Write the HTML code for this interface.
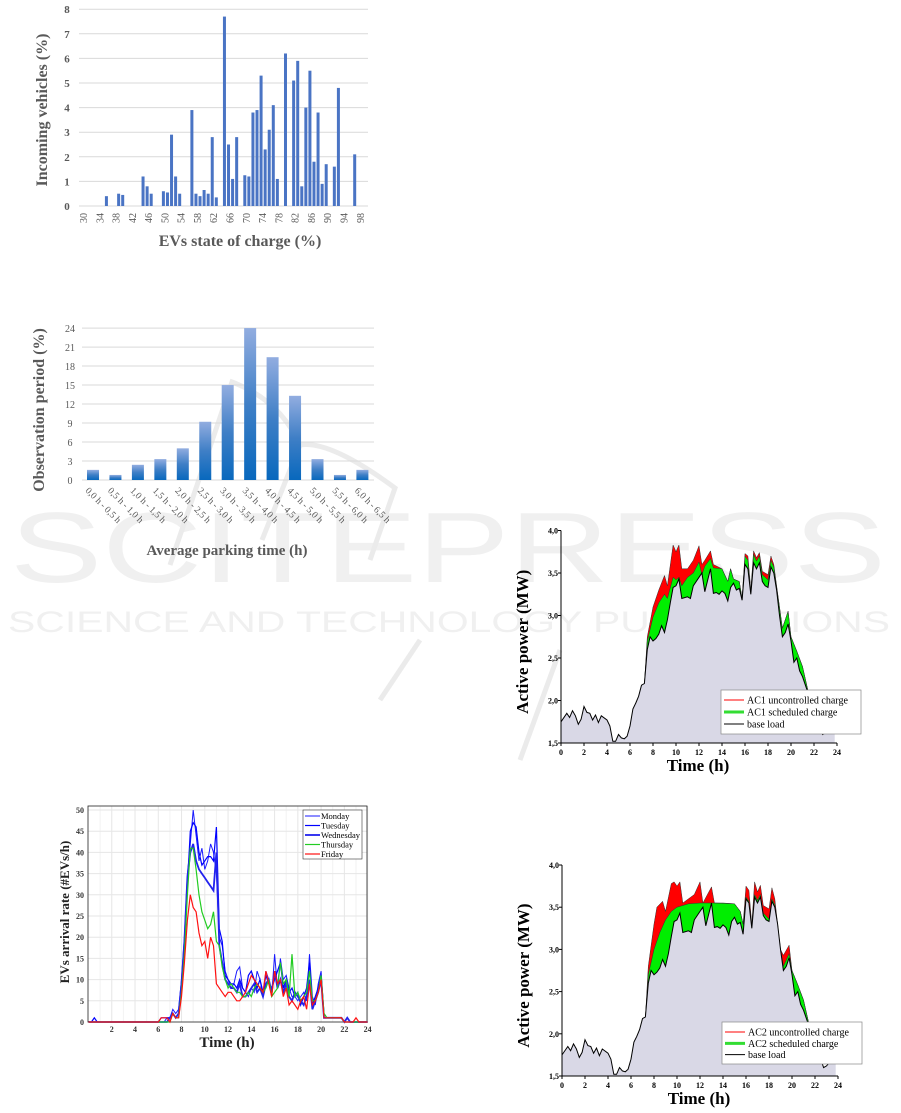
<!DOCTYPE html>
<html><head><meta charset="utf-8">
<style>
html,body{margin:0;padding:0;background:#fff;}
svg{display:block;}
text{font-family:"Liberation Serif",serif;}
</style></head>
<body>
<svg id="s" width="901" height="1113" viewBox="0 0 901 1113" xmlns="http://www.w3.org/2000/svg">
<defs>
<linearGradient id="bg" x1="0" y1="0" x2="0" y2="1">
<stop offset="0" stop-color="#92ade0"/><stop offset="0.5" stop-color="#3f7fc6"/><stop offset="1" stop-color="#0868bd"/>
</linearGradient>
</defs>
<g fill="#f0f0f0">
<text x="10" y="582" font-size="100" textLength="876" lengthAdjust="spacingAndGlyphs" style="font-family:'Liberation Sans',sans-serif">SCITEPRESS</text>
<text x="8" y="632" font-size="30" textLength="882" lengthAdjust="spacingAndGlyphs" style="font-family:'Liberation Sans',sans-serif">SCIENCE AND TECHNOLOGY PUBLICATIONS</text>
</g>
<g fill="none" stroke="#ebebeb" stroke-width="5">
<path d="M170,565 L232,382 Q280,400 300,445 Q330,440 395,488 L370,560"/>
<path d="M300,445 L262,540"/>
<path d="M420,640 L380,700 M560,650 L520,760"/>
</g>
<g id="g"></g>
</svg>
<script>
var NS="http://www.w3.org/2000/svg",G=document.getElementById("g");
function el(t,a,txt){var e=document.createElementNS(NS,t);for(var k in a)e.setAttribute(k,a[k]);if(txt!==undefined)e.textContent=txt;G.appendChild(e);return e;}
(function(){
 var X=function(v){return 82+(v-30)*4.07},Y=function(v){return 206-v*24.6};
 for(var i=0;i<=8;i++){el("line",{x1:79,x2:368,y1:Y(i),y2:Y(i),stroke:"#d9d9d9","stroke-width":1});
  el("text",{x:67,y:Y(i)+4,"font-size":11,"font-weight":"bold",fill:"#595959","text-anchor":"middle"},i);}
 var d=[[36,.4],[39,.5],[40,.45],[45,1.2],[46,.8],[47,.5],[50,.6],[51,.55],[52,2.9],[53,1.2],[54,.5],[57,3.9],[58,.5],[59,.4],[60,.65],[61,.5],[62,2.8],[63,.35],[65,7.7],[66,2.5],[67,1.1],[68,2.8],[70,1.25],[71,1.2],[72,3.8],[73,3.9],[74,5.3],[75,2.3],[76,3.1],[77,4.1],[78,1.1],[80,6.2],[82,5.1],[83,5.9],[84,.8],[85,4],[86,5.5],[87,1.8],[88,3.8],[89,.9],[90,1.7],[92,1.6],[93,4.8],[97,2.1]];
 d.forEach(function(p){el("rect",{x:X(p[0])-1.5,y:Y(p[1]),width:3,height:p[1]*24.6,fill:"#4a74c4"});});
 for(var v=30;v<=98;v+=4){var x=X(v)+3;el("text",{x:x,y:226,"font-size":10,fill:"#595959","text-anchor":"middle",transform:"rotate(-90 "+(x-3)+" 221)"},v);}
 el("text",{x:240,y:246,"font-size":16,"font-weight":"bold",fill:"#595959","text-anchor":"middle"},"EVs state of charge (%)");
 el("text",{x:0,y:0,"font-size":16,"font-weight":"bold",fill:"#595959","text-anchor":"middle",transform:"translate(47,110) rotate(-90)"},"Incoming vehicles (%)");
})();
(function(){
 var Y=function(v){return 480-v*6.33};
 for(var i=0;i<=24;i+=3){el("line",{x1:82,x2:374,y1:Y(i),y2:Y(i),stroke:"#d9d9d9","stroke-width":1});
  el("text",{x:70,y:Y(i)+4,"font-size":10,fill:"#595959","text-anchor":"middle"},i);}
 var v=[1.6,.8,2.4,3.3,5,9.2,15,24,19.4,13.3,3.3,.8,1.6];
 var lb=["0,0 h - 0,5 h","0,5 h - 1,0 h","1,0 h - 1,5 h","1,5 h - 2,0 h","2,0 h - 2,5 h","2,5 h - 3,0 h","3,0 h - 3,5 h","3,5 h - 4,0 h","4,0 h - 4,5 h","4,5 h - 5,0 h","5,0 h - 5,5 h","5,5 h - 6,0 h","6,0 h - 6,5 h"];
 v.forEach(function(h,i){var c=93+i*22.45;el("rect",{x:c-6,y:Y(h),width:12,height:h*6.33,fill:"url(#bg)"});
  el("text",{x:c-6,y:492,"font-size":9.5,fill:"#595959",transform:"rotate(45 "+(c-6)+" 489)"},lb[i]);});
 el("text",{x:227,y:555,"font-size":15,"font-weight":"bold",fill:"#595959","text-anchor":"middle"},"Average parking time (h)");
 el("text",{x:0,y:0,"font-size":16,"font-weight":"bold",fill:"#595959","text-anchor":"middle",transform:"translate(44,410) rotate(-90)"},"Observation period (%)");
})();
var base=[[0,1.75],[.5,1.85],[.75,1.8],[1,1.88],[1.25,1.82],[1.5,1.72],[1.75,1.78],[2,1.93],[2.25,1.86],[2.5,1.85],[2.75,1.77],[3,1.83],[3.25,1.74],[3.5,1.82],[4,1.77],[4.25,1.7],[4.5,1.52],[4.75,1.52],[5,1.6],[5.25,1.56],[5.5,1.55],[5.75,1.58],[6,1.7],[6.25,1.9],[6.5,1.97],[6.75,2.05],[7,2.18],[7.25,2.2],[7.5,2.6],[7.75,2.75],[8,2.7],[8.25,2.73],[8.5,2.78],[8.75,2.88],[9,2.8],[9.25,2.95],[9.5,3.15],[9.75,3.33],[10,3.35],[10.25,3.43],[10.5,3.2],[11,3.22],[11.25,3.2],[11.5,3.35],[12,3.45],[12.25,3.5],[12.5,3.28],[13,3.55],[13.25,3.26],[13.5,3.27],[13.75,3.25],[14,3.29],[14.25,3.26],[14.5,3.17],[14.75,3.33],[15,3.38],[15.25,3.3],[15.5,3.32],[15.75,3.18],[16,3.6],[16.25,3.55],[16.5,3.25],[16.75,3.62],[17,3.55],[17.25,3.62],[17.5,3.4],[17.75,3.35],[18,3.33],[18.25,3.57],[18.5,3.5],[18.75,3.3],[19,3.0],[19.25,2.75],[19.5,2.8],[19.75,2.9],[20,2.7],[20.25,2.45],[20.5,2.5],[20.75,2.35],[21,2.28],[21.5,2.08],[22,1.9],[22.5,1.7],[22.75,1.6],[23,1.62],[23.5,1.7],[23.8,1.72]];
var red=[[7.25,2.2],[7.5,2.75],[8,3.1],[8.5,3.3],[9,3.47],[9.25,3.35],[9.75,3.83],[10,3.75],[10.25,3.83],[10.5,3.55],[11,3.55],[11.5,3.65],[12,3.82],[12.25,3.6],[12.5,3.65],[13,3.76],[13.25,3.6],[14,3.55],[14.5,3.4],[14.75,3.55],[15,3.43],[15.5,3.4],[15.75,3.2],[16,3.73],[16.25,3.7],[16.5,3.3],[16.75,3.76],[17,3.68],[17.25,3.74],[17.5,3.52],[18,3.48],[18.25,3.7],[18.5,3.6],[19,3.1],[19.25,2.85],[19.75,3.05],[20,2.75],[20.5,2.58],[21,2.4],[21.5,2.1],[22,1.9]];
var grn1=[[7.25,2.2],[7.5,2.7],[8,2.98],[8.5,3.15],[9,3.25],[9.25,3.2],[9.75,3.45],[10,3.42],[10.25,3.45],[10.5,3.35],[11,3.45],[11.5,3.5],[12,3.63],[12.25,3.48],[12.5,3.58],[13,3.67],[13.25,3.56],[14,3.55],[14.5,3.4],[14.75,3.55],[15,3.43],[15.5,3.4],[15.75,3.2],[16,3.7],[16.25,3.65],[16.5,3.28],[16.75,3.72],[17,3.64],[17.25,3.7],[17.5,3.48],[18,3.42],[18.25,3.65],[18.5,3.57],[19,3.1],[19.25,2.85],[19.75,3.05],[20,2.75],[20.5,2.58],[21,2.4],[21.5,2.1],[22,1.9]];
var red2=[[7.25,2.2],[7.5,2.8],[8,3.3],[8.25,3.5],[8.75,3.57],[9,3.45],[9.5,3.78],[9.75,3.8],[10,3.75],[10.25,3.8],[10.5,3.55],[11.5,3.65],[12,3.8],[12.25,3.55],[13,3.74],[13.25,3.55],[15,3.54],[15.5,3.45],[15.75,3.3],[16,3.75],[16.25,3.7],[16.5,3.3],[16.75,3.8],[17,3.68],[17.25,3.76],[17.5,3.52],[18,3.48],[18.25,3.73],[18.5,3.6],[19,3.0],[19.25,2.93],[19.75,3.05],[20,2.75],[20.5,2.58],[21,2.4],[21.5,2.1],[22,1.9]];
var grn2=[[7.25,2.2],[7.5,2.7],[8,3.0],[8.5,3.2],[9,3.35],[9.5,3.45],[10,3.5],[11,3.54],[12,3.55],[13,3.55],[14,3.55],[15,3.54],[15.5,3.45],[15.75,3.3],[16,3.62],[16.25,3.57],[16.5,3.27],[16.75,3.65],[17,3.58],[17.25,3.65],[17.5,3.43],[18,3.36],[18.25,3.6],[18.5,3.53],[19,3.0],[19.25,2.8],[19.75,2.95],[20,2.75],[20.5,2.58],[21,2.4],[21.5,2.1],[22,1.9]];
function power(ox,y40,y15,top,gr,lab,legY){
 var X=function(t){return ox+t*11.5},Y=function(v){return y15-(v-1.5)*(y15-y40)/2.5};
 function poly(arr,col){var s="M"+X(arr[0][0])+","+y15;arr.forEach(function(p){s+="L"+X(p[0]).toFixed(1)+","+Y(p[1]).toFixed(1)});s+="L"+X(arr[arr.length-1][0])+","+y15+"Z";el("path",{d:s,fill:col});}
 function line(arr,c,w){var s="";arr.forEach(function(p,i){s+=(i?"L":"M")+X(p[0]).toFixed(1)+","+Y(p[1]).toFixed(1)});el("path",{d:s,fill:"none",stroke:c,"stroke-width":w});}
 poly(top,"#ff0000");poly(gr,"#00ee00");
 line(top,"#333",.5);line(gr,"#333",.5);
 poly(base,"#d9d8e6");
 line(base,"#000",1);
 el("line",{x1:ox,x2:ox,y1:y40,y2:y15,stroke:"#000","stroke-width":1});
 el("line",{x1:ox,x2:X(24),y1:y15,y2:y15,stroke:"#000","stroke-width":1});
 for(var v=1.5;v<=4.01;v+=.5){el("line",{x1:ox-3,x2:ox,y1:Y(v),y2:Y(v),stroke:"#000"});
  el("text",{x:ox-3,y:Y(v)+3,"font-size":8,"font-weight":"bold","text-anchor":"end"},v.toFixed(1).replace(".",","));}
 for(var t=0;t<=24;t+=2){el("line",{x1:X(t),x2:X(t),y1:y15,y2:y15+3,stroke:"#000"});
  el("text",{x:X(t),y:y15+12,"font-size":8,"font-weight":"bold","text-anchor":"middle"},t);}
 el("text",{x:ox+137,y:y15+28,"font-size":17,"font-weight":"bold","text-anchor":"middle"},"Time (h)");
 el("text",{x:0,y:0,"font-size":17,"font-weight":"bold","text-anchor":"middle",transform:"translate("+(ox-33)+","+((y15+y40)/2+5)+") rotate(-90)"},"Active power (MW)");
 var lx=ox+160,lw=140,lh=legY[1]-legY[0];
 el("rect",{x:lx,y:legY[0],width:lw,height:lh,fill:"#fff",stroke:"#888","stroke-width":.7});
 var rows=[[lab+" uncontrolled charge","#ff0000",1],[lab+" scheduled charge","#33dd33",3],["base load","#000",1]];
 rows.forEach(function(r,i){var yy=legY[0]+8+i*(lh-8)/3+2;el("line",{x1:lx+3,x2:lx+23,y1:yy,y2:yy,stroke:r[1],"stroke-width":r[2]});
  el("text",{x:lx+26,y:yy+3.5,"font-size":10},r[0]);});
}
power(561,530.5,743,red,grn1,"AC1",[690,734]);
power(562,865,1076,red2,grn2,"AC2",[1022,1064]);
(function(){
 var X=function(t){return 88.5+t*11.63},Y=function(v){return 1022-v*4.24};
 for(var t=2;t<=24;t+=2)el("line",{x1:X(t),x2:X(t),y1:806,y2:1022,stroke:"#e6e6e6"});
 for(var t=1;t<24;t+=2)el("line",{x1:X(t),x2:X(t),y1:806,y2:1022,stroke:"#f2f2f2"});
 for(var v=5;v<=50;v+=5)el("line",{x1:88,x2:367,y1:Y(v),y2:Y(v),stroke:"#e6e6e6"});
 el("rect",{x:88,y:806,width:279,height:216,fill:"none",stroke:"#222","stroke-width":.8});
 for(var v=0;v<=50;v+=5)el("text",{x:84,y:Y(v)+3,"font-size":8,"font-weight":"bold","text-anchor":"end",fill:"#333"},v);
 for(var t=2;t<=24;t+=2)el("text",{x:X(t),y:1032,"font-size":8,"font-weight":"bold","text-anchor":"middle",fill:"#333"},t);
 var S={
 Monday:[0,0,0,1,1,3,2,3,10,20,35,42,50,44,38,41,36,38,42,40,35,20,18,12,10,8,9,12,13,8,7,6,8,7,12,10,6,12,10,6,16,8,15,10,11,8,6,6,5,6,7,5,16,6,4,9,12,2,1,1,1],
 Tuesday:[0,1,1,1,1,2,1,2,8,18,32,45,47,46,40,37,38,39,39,38,46,22,19,11,10,9,9,8,10,8,7,11,12,10,8,10,7,11,9,8,10,12,14,8,10,7,8,6,7,4,6,8,14,4,6,8,11,1,1,1,1],
 Wednesday:[0,0,0,0,1,2,1,2,9,19,34,40,42,38,36,35,34,33,32,31,40,18,14,10,9,8,8,7,9,6,6,7,8,9,7,8,6,9,10,7,12,8,10,7,9,6,5,7,6,5,4,6,10,3,5,7,10,1,1,1,1],
 Thursday:[0,0,0,0,0,2,1,1,7,16,30,41,41,36,30,26,24,22,23,26,19,18,13,10,8,9,8,7,7,6,6,7,6,8,9,8,7,8,10,6,7,8,14,9,10,6,16,6,7,5,6,7,12,5,5,7,11,2,1,1,1],
 Friday:[0,1,1,1,0,2,1,1,6,14,24,30,27,26,21,18,19,15,20,18,9,8,7,6,7,7,6,5,5,6,7,9,11,10,9,8,7,12,9,6,12,9,10,6,8,4,5,4,3,5,6,3,9,4,5,7,10,1,1,1,1]};
 var C={Monday:["#1a1aff",1],Tuesday:["#0000ff",1.2],Wednesday:["#2222ee",1.8],Thursday:["#22cc22",1.2],Friday:["#ff1111",1.2]};
 Object.keys(S).forEach(function(k){var a=S[k];var s="M"+X(0)+","+Y(0);
  if(k=="Tuesday")s+="L"+X(.25)+","+Y(0)+"L"+X(.5)+","+Y(1)+"L"+X(.75)+","+Y(0);
  a.forEach(function(v,i){s+="L"+X(6+i*.25).toFixed(1)+","+Y(v).toFixed(1)});
  s+="L"+X(21.75)+","+Y(1)+"L"+X(22)+","+Y(0);
  if(k=="Monday"||k=="Wednesday")s+="L"+X(22.25)+","+Y(1)+"L"+X(22.5)+","+Y(0);
  if(k=="Friday")s+="L"+X(22.75)+","+Y(0)+"L"+X(23)+","+Y(1)+"L"+X(23.25)+","+Y(0);
  s+="L"+X(24)+","+Y(0);
  el("path",{d:s,fill:"none",stroke:C[k][0],"stroke-width":C[k][1]});});
 el("rect",{x:303,y:810,width:59,height:49,fill:"#fff",stroke:"#333","stroke-width":.6});
 Object.keys(S).forEach(function(k,i){var yy=816+i*9.5;el("line",{x1:305,x2:320,y1:yy,y2:yy,stroke:C[k][0],"stroke-width":C[k][1]});
  el("text",{x:321,y:yy+3,"font-size":8.5},k);});
 el("text",{x:227,y:1047,"font-size":15,"font-weight":"bold","text-anchor":"middle",fill:"#222"},"Time (h)");
 el("text",{x:0,y:0,"font-size":13,"font-weight":"bold","text-anchor":"middle",fill:"#222",transform:"translate(69,912) rotate(-90)"},"EVs arrival rate (#EVs/h)");
})();
</script>
</body></html>
